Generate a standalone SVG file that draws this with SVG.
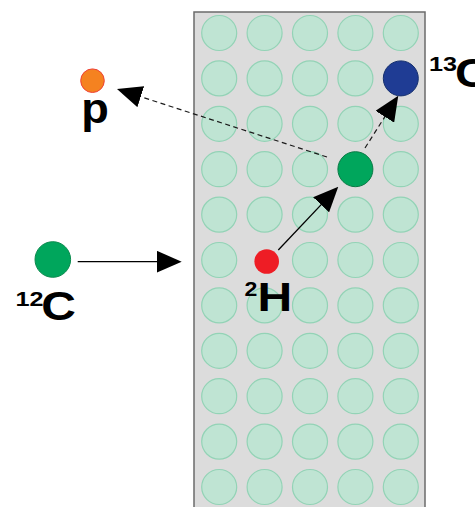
<svg xmlns="http://www.w3.org/2000/svg" width="475" height="507" viewBox="0 0 475 507">
  <style>
    .site { fill: #bfe4d3; stroke: #93d3b6; stroke-width: 1.2; }
    .link { fill: none; stroke: #000; stroke-width: 1.3; marker-end: url(#head); }
    .dash { stroke: #1a1a1a; stroke-width: 1.2; stroke-dasharray: 5 3.5; }
    .lbl { font-family: "Liberation Sans", Arial, sans-serif; font-weight: bold; fill: #000; }
    .big { font-size: 40px; }
    .sup { font-size: 21px; }
  </style>
  <defs>
    <marker id="head" markerUnits="userSpaceOnUse" markerWidth="25" markerHeight="22" refX="15" refY="11" orient="auto">
      <path d="M0,0 L25,11 L0,22 Z" fill="#000"/>
    </marker>
  </defs>

  <!-- target slab -->
  <g id="target">
    <rect x="194" y="12" width="231" height="500" fill="#dcdcdc" stroke="#6b6b6b" stroke-width="1.5"/>
    <g id="lattice">
      <circle class="site" cx="219.2" cy="33" r="17.5"/><circle class="site" cx="264.6" cy="33" r="17.5"/><circle class="site" cx="310" cy="33" r="17.5"/><circle class="site" cx="355.4" cy="33" r="17.5"/><circle class="site" cx="400.8" cy="33" r="17.5"/>
      <circle class="site" cx="219.2" cy="78.4" r="17.5"/><circle class="site" cx="264.6" cy="78.4" r="17.5"/><circle class="site" cx="310" cy="78.4" r="17.5"/><circle class="site" cx="355.4" cy="78.4" r="17.5"/>
      <circle class="site" cx="219.2" cy="123.8" r="17.5"/><circle class="site" cx="264.6" cy="123.8" r="17.5"/><circle class="site" cx="310" cy="123.8" r="17.5"/><circle class="site" cx="355.4" cy="123.8" r="17.5"/><circle class="site" cx="400.8" cy="123.8" r="17.5"/>
      <circle class="site" cx="219.2" cy="169.2" r="17.5"/><circle class="site" cx="264.6" cy="169.2" r="17.5"/><circle class="site" cx="310" cy="169.2" r="17.5"/><circle class="site" cx="400.8" cy="169.2" r="17.5"/>
      <circle class="site" cx="219.2" cy="214.6" r="17.5"/><circle class="site" cx="264.6" cy="214.6" r="17.5"/><circle class="site" cx="310" cy="214.6" r="17.5"/><circle class="site" cx="355.4" cy="214.6" r="17.5"/><circle class="site" cx="400.8" cy="214.6" r="17.5"/>
      <circle class="site" cx="219.2" cy="260" r="17.5"/><circle class="site" cx="310" cy="260" r="17.5"/><circle class="site" cx="355.4" cy="260" r="17.5"/><circle class="site" cx="400.8" cy="260" r="17.5"/>
      <circle class="site" cx="219.2" cy="305.4" r="17.5"/><circle class="site" cx="264.6" cy="305.4" r="17.5"/><circle class="site" cx="310" cy="305.4" r="17.5"/><circle class="site" cx="355.4" cy="305.4" r="17.5"/><circle class="site" cx="400.8" cy="305.4" r="17.5"/>
      <circle class="site" cx="219.2" cy="350.8" r="17.5"/><circle class="site" cx="264.6" cy="350.8" r="17.5"/><circle class="site" cx="310" cy="350.8" r="17.5"/><circle class="site" cx="355.4" cy="350.8" r="17.5"/><circle class="site" cx="400.8" cy="350.8" r="17.5"/>
      <circle class="site" cx="219.2" cy="396.2" r="17.5"/><circle class="site" cx="264.6" cy="396.2" r="17.5"/><circle class="site" cx="310" cy="396.2" r="17.5"/><circle class="site" cx="355.4" cy="396.2" r="17.5"/><circle class="site" cx="400.8" cy="396.2" r="17.5"/>
      <circle class="site" cx="219.2" cy="441.6" r="17.5"/><circle class="site" cx="264.6" cy="441.6" r="17.5"/><circle class="site" cx="310" cy="441.6" r="17.5"/><circle class="site" cx="355.4" cy="441.6" r="17.5"/><circle class="site" cx="400.8" cy="441.6" r="17.5"/>
      <circle class="site" cx="219.2" cy="487" r="17.5"/><circle class="site" cx="264.6" cy="487" r="17.5"/><circle class="site" cx="310" cy="487" r="17.5"/><circle class="site" cx="355.4" cy="487" r="17.5"/><circle class="site" cx="400.8" cy="487" r="17.5"/>
    </g>
  </g>

  <!-- reaction paths -->
  <g id="connectors">
    <line class="link" x1="77.7" y1="261.7" x2="171.7" y2="261.7"/>
    <line class="link" x1="278.3" y1="250" x2="331.4" y2="193.9"/>
    <line class="link dash" x1="327" y1="157" x2="126.5" y2="92.1"/>
    <line class="link dash" x1="365" y1="148" x2="392.9" y2="104.1"/>
  </g>

  <!-- incoming carbon-12 -->
  <g id="c12">
    <circle cx="52.8" cy="259.5" r="17.8" fill="#00a65c" stroke="#0b8a4e" stroke-width="1"/>
    <text class="lbl sup" transform="translate(15.5,306) scale(1.2,1)">12</text>
    <text class="lbl big" transform="translate(41.2,319.5) scale(1.2,1)">C</text>
  </g>

  <!-- deuteron in target -->
  <g id="h2">
    <circle cx="266.7" cy="261.5" r="12.3" fill="#ee1d25"/>
    <text class="lbl sup" transform="translate(244.5,296) scale(1.1,1)">2</text>
    <text class="lbl big" transform="translate(257.5,311) scale(1.2,1)">H</text>
  </g>

  <!-- compound nucleus -->
  <g id="compound">
    <circle cx="355.4" cy="169.2" r="17.5" fill="#00a65c" stroke="#0a7a45" stroke-width="1"/>
  </g>

  <!-- outgoing carbon-13 -->
  <g id="c13">
    <circle cx="400.8" cy="78.4" r="17.5" fill="#1f3c94" stroke="#15306e" stroke-width="1"/>
    <text class="lbl sup" transform="translate(429,70.5) scale(1.2,1)">13</text>
    <text class="lbl big" transform="translate(454.9,87) scale(1.2,1)">C</text>
  </g>

  <!-- emitted proton -->
  <g id="proton">
    <circle cx="92.5" cy="80.7" r="11.8" fill="#f58220" stroke="#ef4136" stroke-width="1"/>
    <text class="lbl" font-size="43" transform="translate(81.3,123.4) scale(1.05,1)">p</text>
  </g>
</svg>
